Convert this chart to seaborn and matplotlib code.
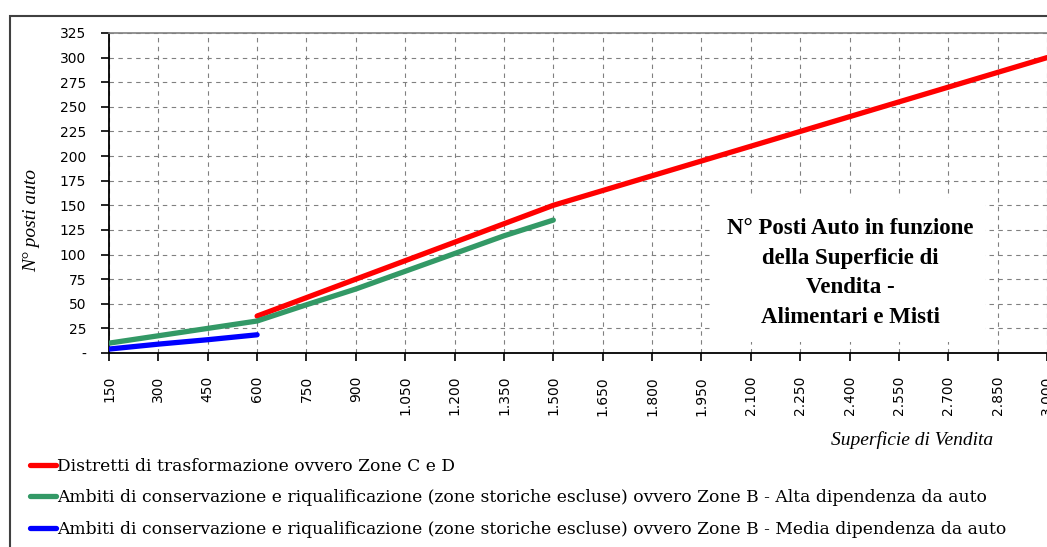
import matplotlib
matplotlib.use('Agg')
import matplotlib.pyplot as plt
import matplotlib.patches as mpatches
import numpy as np
import pandas as pd
import seaborn as sns

# dati
x_ticks = [150, 300, 450, 600, 750, 900, 1050, 1200, 1350, 1500, 1650, 1800,
           1950, 2100, 2250, 2400, 2550, 2700, 2850, 3000]
x_labels = ['150', '300', '450', '600', '750', '900', '1.050', '1.200', '1.350',
            '1.500', '1.650', '1.800', '1.950', '2.100', '2.250', '2.400',
            '2.550', '2.700', '2.850', '3.000']

red_x = [600, 750, 900, 1050, 1200, 1350, 1500, 1650, 1800, 1950, 2100, 2250,
         2400, 2550, 2700, 2850, 3000]
red_y = [37.5, 56.25, 75, 93.75, 112.5, 131.25, 150, 165, 180, 195, 210, 225,
         240, 255, 270, 285, 300]

green_x = [150, 300, 450, 600, 750, 900, 1050, 1200, 1350, 1500]
green_y = [10, 17.5, 25, 32.5, 49, 65, 83, 101, 119, 135]

blue_x = [150, 300, 450, 600]
blue_y = [4, 9, 13.5, 18.5]

series_names = [
    'Distretti di trasformazione ovvero Zone C e D',
    'Ambiti di conservazione e riqualificazione (zone storiche escluse) ovvero Zone B - Alta dipendenza da auto',
    'Ambiti di conservazione e riqualificazione (zone storiche escluse) ovvero Zone B - Media dipendenza da auto',
]
colors = ['#FF0000', '#339966', '#0000FF']

y_ticks = list(range(0, 326, 25))
y_labels = ['-'] + [str(v) for v in y_ticks[1:]]

box_text = "N° Posti Auto in funzione\ndella Superficie di\nVendita -\nAlimentari e Misti"

df = pd.concat([
    pd.DataFrame({'sup': red_x, 'posti': red_y, 'serie': series_names[0]}),
    pd.DataFrame({'sup': green_x, 'posti': green_y, 'serie': series_names[1]}),
    pd.DataFrame({'sup': blue_x, 'posti': blue_y, 'serie': series_names[2]}),
])

sns.set_style('white')
plt.rcParams['font.family'] = ['Liberation Serif', 'DejaVu Serif']
plt.rcParams['text.color'] = 'black'
plt.rcParams['xtick.color'] = 'black'
plt.rcParams['ytick.color'] = 'black'

W, H = 1047, 547
fig = plt.figure(figsize=(W / 100, H / 100), dpi=100)
ax = fig.add_axes([109 / W, 1 - 353 / H, (1047 - 109) / W, 320 / H])

# cornice esterna
fig.patches.append(mpatches.Rectangle((10 / W, -0.05), 1.0, 1 - 16 / H + 0.05,
                                      transform=fig.transFigure, fill=False,
                                      edgecolor='#404040', linewidth=1.5))

ax.grid(True, color='#808080', linestyle=(0, (4, 4)), linewidth=0.8)
ax.set_axisbelow(True)

# riquadro bianco del titolo (copre la griglia)
ax.add_patch(mpatches.Rectangle(((710 - 109) / 938, (353 - 342) / 320),
                                275 / 938, 144 / 320, transform=ax.transAxes,
                                facecolor='white', edgecolor='none', zorder=1.5))

sns.lineplot(data=df, x='sup', y='posti', hue='serie', palette=colors,
             hue_order=series_names, linewidth=3.8, ax=ax, legend=False,
             zorder=3)

tick_font = {'family': 'DejaVu Sans', 'size': 10}
ax.set_xlim(150, 3000)
ax.set_ylim(0, 325)
ax.set_xticks(x_ticks)
ax.set_xticklabels(x_labels, rotation=90, fontdict=tick_font)
ax.set_yticks(y_ticks)
ax.set_yticklabels(y_labels, fontdict=tick_font)
ax.tick_params(axis='both', direction='out', length=5.5, width=1.2,
               color='black', labelcolor='black', bottom=True, left=True)
ax.tick_params(axis='x', pad=11)
ax.tick_params(axis='y', pad=11)
ax.set_xlabel('')
ax.set_ylabel('')

for s in ['left', 'bottom']:
    ax.spines[s].set_color('black')
    ax.spines[s].set_linewidth(1.3)
ax.spines['top'].set_color('#808080')
ax.spines['top'].set_linewidth(1.2)
ax.spines['right'].set_visible(False)

ax.text((850 - 109) / 938, (353 - 273) / 320, box_text, transform=ax.transAxes,
        ha='center', va='center', fontsize=16.5, fontweight='bold',
        linespacing=1.55, color='black', zorder=4)

fig.text(32 / W, 1 - 221 / H, 'N° posti auto', rotation=90, style='italic',
         fontsize=14, ha='center', va='center', color='black')
fig.text(912 / W, 1 - 440 / H, 'Superficie di Vendita', style='italic',
         fontsize=14, ha='center', va='center', color='black')

handles = [plt.Line2D([], [], color=c, linewidth=3.8) for c in colors]
leg = fig.legend(handles, series_names, loc='upper left',
                 bbox_to_anchor=(30 / W, 1 - 458 / H), frameon=False,
                 prop={'family': 'DejaVu Serif', 'size': 12.3},
                 borderaxespad=0, borderpad=0, handlelength=1.5,
                 handletextpad=0.1, labelspacing=0.84)
for t in leg.get_texts():
    t.set_color('black')

fig.savefig('out.png', dpi=100)
